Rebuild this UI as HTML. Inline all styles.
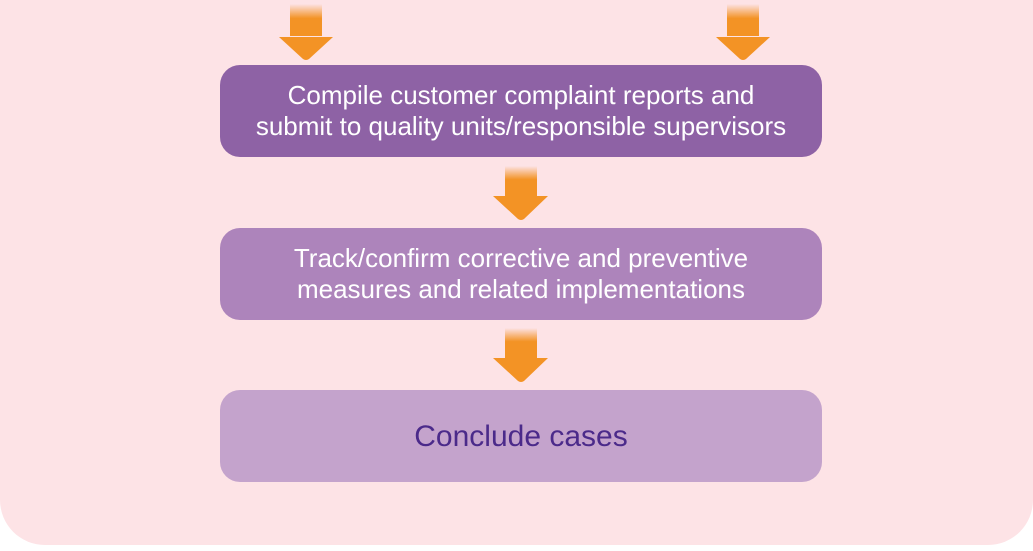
<!DOCTYPE html>
<html><head><style>
html,body{margin:0;padding:0;background:#fff;}
body{width:1033px;height:551px;position:relative;overflow:hidden;font-family:"Liberation Sans",sans-serif;}
.bg{position:absolute;left:0;top:-50px;width:1033px;height:595px;background:#fde3e6;border-radius:45px;}
.box{position:absolute;left:220px;width:602px;height:92px;border-radius:20px;display:flex;align-items:center;justify-content:center;text-align:center;color:#fff;font-size:26px;line-height:31px;}
</style></head><body>
<div class="bg"></div>
<svg width="1033" height="551" style="position:absolute;left:0;top:0">
<defs><linearGradient id="g" x1="0" y1="0" x2="0" y2="1">
<stop offset="0" stop-color="#f39325" stop-opacity="0"/><stop offset="0.45" stop-color="#f39325"/><stop offset="1" stop-color="#f39325"/></linearGradient></defs>
<g fill="#f39325">
<rect x="290" y="4" width="32" height="32" fill="url(#g)"/><path d="M279,37 L333,37 L309,59 Q306,61 303,59 Z"/>
<rect x="727" y="4" width="32" height="32" fill="url(#g)"/><path d="M716,37 L770,37 L746,59 Q743,61 740,59 Z"/>
<rect x="505" y="166" width="32" height="30" fill="url(#g)"/><path d="M493,196 L548,196 L524,219 Q521,221 518,219 Z"/>
<rect x="505" y="328" width="32" height="30" fill="url(#g)"/><path d="M493,358 L548,358 L524,381 Q521,383 518,381 Z"/>
</g></svg>
<div class="box" style="top:65px;background:#8e62a5">Compile customer complaint reports and<br>submit to quality units/responsible supervisors</div>
<div class="box" style="top:228px;background:#ad84bb">Track/confirm corrective and preventive<br>measures and related implementations</div>
<div class="box" style="top:390px;background:#c4a3cc;color:#4b2a8a;font-size:30px">Conclude cases</div>
</body></html>
